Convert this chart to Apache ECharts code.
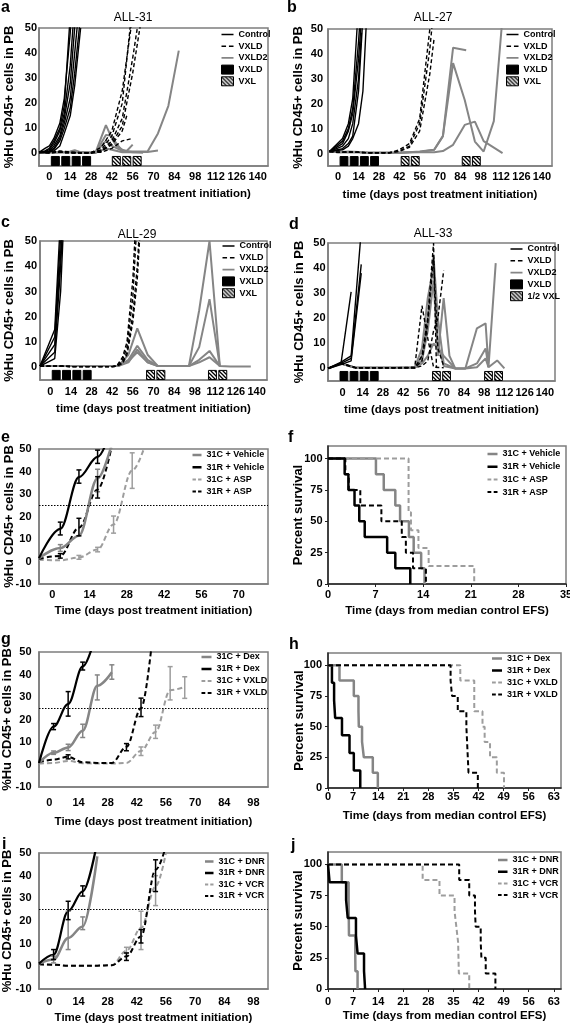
<!DOCTYPE html>
<html><head><meta charset="utf-8">
<script src="https://cdn.jsdelivr.net/npm/echarts@6/dist/echarts.min.js"></script>
<style>html,body{margin:0;padding:0;background:#fff}#c{width:570px;height:1026px}</style>
</head><body><div id="c"></div>
<script>
// ---------------- DATA ----------------
const ticks140 = [0,14,28,42,56,70,84,98,112,126,140];
const ticks70 = [0,14,28,42,56,70];
const ticks98 = [0,14,28,42,56,70,84,98];
const ticks35 = [0,7,14,21,28,35];
const ticks63 = [0,7,14,21,28,35,42,49,56,63];
const pbTicks = [0,10,20,30,40,50];
const pbTicksNeg = [-10,0,10,20,30,40,50];
const survTicks = [0,25,50,75,100];

// Panel a: ALL-31  ([day, %huCD45])
const a_control = [
 [[-7,0.4],[-3,1],[0,2],[3,5],[7,10],[10,19],[14,55]],
 [[-7,0.4],[-3,2],[0,3],[3,6],[7,12],[10,22],[14,48],[17,75]],
 [[-7,0.4],[-3,0.8],[0,1.5],[3,4],[7,9],[10,16],[14,35],[17,60]],
 [[-7,0.4],[-3,0.5],[0,1],[3,3],[7,7],[10,14],[14,28],[17,50],[21,70]],
 [[-7,0.4],[-3,0.5],[0,0.8],[3,2],[7,6],[10,12],[14,22],[17,40],[21,65]],
 [[-7,0.4],[-3,0.4],[0,0.6],[3,1.5],[7,5],[10,10],[14,18],[17,32],[21,55]],
 [[-7,0.4],[-3,0.4],[0,0.5],[3,1],[7,3],[10,8],[14,15],[17,27],[21,50]]
];
const a_vxld = [
 [[-7,0.5],[0,0.5],[7,1],[14,0.5],[21,0.3],[28,0.3],[35,1.5],[42,7],[49,20],[56,60]],
 [[-7,0.5],[0,0.5],[7,0.8],[14,0.5],[21,0.3],[28,0.3],[35,2.5],[42,9],[49,25],[56,55]],
 [[-7,0.5],[0,0.3],[7,0.5],[14,0.3],[21,0.3],[28,0.3],[35,1],[42,5],[49,14],[56,38],[63,65]],
 [[-7,0.5],[0,0.3],[7,0.5],[14,0.3],[21,0.3],[28,0.3],[35,0.8],[42,4],[49,11],[56,32],[63,58]],
 [[-7,0.5],[0,0.3],[7,0.5],[14,0.3],[21,0.3],[28,0.3],[35,1],[42,3.5],[49,9],[52,15]],
 [[-7,0.5],[0,0.3],[7,0.5],[14,0.3],[21,0.3],[28,0.3],[35,0.5],[42,2],[49,5],[56,6]]
];
const a_vxld2 = [
 [[-7,0.5],[0,0.5],[7,0.5],[14,0.8],[17,1.3],[21,0.5],[28,0.3],[31,0.3],[38,11.3],[42,6],[45,3],[49,1.5],[52,1],[56,3.5]],
 [[-7,0.5],[0,0.5],[7,0.5],[14,0.5],[21,0.5],[28,0.3],[31,0.3],[38,7.4],[42,7],[45,4],[49,1],[56,0.8],[63,0.8],[66,0.8],[73,8],[80,19],[87,41]],
 [[-7,0.5],[0,0.5],[7,0.5],[14,0.5],[21,0.5],[28,0.3],[31,0.3],[38,5],[42,3],[49,1],[56,0.5],[63,0.6],[66,0.6],[73,1.2]],
 [[-7,0.5],[0,0.5],[7,0.5],[14,0.5],[21,0.5],[28,0.3],[31,0.3],[38,2],[42,1.5],[49,0.5],[56,0.5],[63,0.3]]
];
const a_tx_vxld = [4, 11, 18, 25];
const a_tx_vxl = [45, 52, 59];

// Panel b: ALL-27
const b_control = [
 [[-6,0.8],[3,6],[7,12],[10,22],[14,60]],
 [[-6,0.8],[3,5],[7,10],[10,18],[14,45],[17,70]],
 [[-6,0.8],[3,4],[7,9],[10,16],[14,38],[17,62]],
 [[-6,0.8],[3,3],[7,6],[10,12],[14,30],[16,48.5]],
 [[-6,0.8],[3,2],[7,4],[10,7],[14,25],[17,55]],
 [[-6,0.8],[3,1.5],[7,3],[10,6],[14,12],[17,25],[20,60]]
];
const b_vxld = [
 [[-6,0.8],[0,0.5],[7,0.8],[14,0.5],[21,0.3],[28,0.3],[35,0.3],[42,1],[49,3],[56,12],[63,42],[66,60]],
 [[-6,0.8],[0,0.5],[7,0.5],[14,0.5],[21,0.3],[28,0.3],[35,0.3],[42,1.5],[49,4],[56,14],[63,50],[66,70]],
 [[-6,0.8],[0,0.5],[7,0.5],[14,0.5],[21,0.3],[28,0.3],[35,0.3],[42,0.8],[49,2.5],[56,9],[63,32],[66,46.5]]
];
const b_vxld2 = [
 [[-6,0.8],[0,0.5],[7,0.8],[14,0.6],[21,0.3],[28,0.3],[35,0.3],[42,0.3],[49,0.5],[56,0.8],[66,1.5],[72,7],[79,42.5],[88,41.5]],
 [[-6,0.8],[0,0.5],[7,0.5],[14,0.5],[21,0.3],[28,0.3],[35,0.3],[42,0.3],[49,0.5],[56,0.6],[66,1.5],[72,7],[79,36.3],[87,21.5],[94,4.8],[100,0.8],[107,13],[113,55]],
 [[-6,0.8],[0,0.5],[7,0.5],[14,0.5],[21,0.3],[28,0.3],[35,0.3],[42,0.3],[49,0.5],[56,0.5],[66,0.5],[72,1],[79,3.5],[87,11.5],[94,12.8],[100,5],[113,0.2]]
];
const b_tx_vxld = [4, 11, 18, 25];
const b_tx_vxl = [46, 53, 88, 95];

// Panel c: ALL-29
const c_control = [
 [[-7,0.5],[3,15],[7,60]],
 [[-7,0.5],[3,12],[7,52]],
 [[-7,0.5],[3,9],[7,45],[10,80]],
 [[-7,0.5],[3,6],[7,40],[10,75]],
 [[-7,0.5],[3,3.5],[7,30],[10,70]]
];
const c_vxld = [
 [[-7,0.5],[0,0.5],[7,0.5],[14,0.3],[21,0.3],[28,0.3],[35,0.3],[42,0.3],[45,0.5],[49,4],[52,10],[56,35],[59,70]],
 [[-7,0.5],[0,0.5],[7,0.5],[14,0.3],[21,0.3],[28,0.3],[35,0.3],[42,0.3],[45,0.5],[49,3],[52,8],[56,28],[59,60]],
 [[-7,0.5],[0,0.5],[7,0.5],[14,0.3],[21,0.3],[28,0.3],[35,0.3],[42,0.3],[45,0.5],[49,2],[52,6],[56,21],[59,40],[63,80]],
 [[-7,0.5],[0,0.5],[7,0.5],[14,0.3],[21,0.3],[28,0.3],[35,0.3],[42,0.3],[45,0.5],[49,1.5],[52,5],[56,18],[59,35],[63,75]]
];
const c_vxld2 = [
 [[-7,0.5],[7,0.5],[21,0.5],[35,0.5],[46,0.5],[53,5],[59,15.4],[66,5],[73,0.5],[87,0.5],[94,0.5],[101,22.6],[108,50],[115,0.5]],
 [[-7,0.5],[7,0.5],[21,0.5],[35,0.5],[46,0.5],[53,3],[59,8.5],[66,3],[73,0.5],[87,0.5],[94,0.5],[101,8],[108,27],[115,0.5]],
 [[-7,0.5],[7,0.5],[21,0.5],[35,0.5],[46,0.5],[53,2],[59,7],[66,2],[73,0.5],[87,0.5],[94,0.5],[101,3],[108,6.5],[115,0.5],[122,0.3],[129,0.3],[136,0.3]],
 [[-7,0.5],[7,0.5],[21,0.5],[35,0.5],[46,0.5],[53,2.5],[59,6],[66,2],[73,0.5],[87,0.5],[94,0.5],[101,2],[108,4],[115,0.5]]
];
const c_tx_vxld = [4, 11, 18, 25];
const c_tx_vxl = [68, 75, 110, 117];

// Panel d: ALL-33
const d_control = [
 [[-10,0],[-1,2],[6,30.5]],
 [[-10,0],[-1,2.5],[6,5],[13,55]],
 [[-10,0],[-1,2],[6,4],[13,41.5]],
 [[-10,0],[-1,1.5],[6,3],[13,38]]
];
const d_vxld = [
 [[-10,0],[-1,2],[9,0.3],[21,0.3],[35,0.3],[50,0.5],[55,25],[59,12],[63,0.5],[70,0.3]],
 [[-10,0],[-1,2],[9,0.3],[21,0.3],[35,0.3],[50,0.3],[55,5],[59,20],[63,50],[65,0.5]],
 [[-10,0],[-1,2],[9,0.3],[21,0.3],[35,0.3],[50,0.3],[55,1],[59,3],[63,15],[66,20],[70,39]],
 [[-10,0],[-1,2],[9,0.3],[21,0.3],[35,0.3],[50,0.3],[55,3],[59,18],[63,44],[66,8],[70,1]]
];
const d_vxld2 = [
 [[-10,0],[-1,2],[9,0.3],[21,0.3],[35,0.3],[50,0.3],[55,5],[59,20],[63,44.6],[66,20],[70,2],[78,0]],
 [[-10,0],[-1,2],[9,0.3],[21,0.3],[35,0.3],[50,0.3],[55,8],[59,28],[63,40.6],[66,10],[70,1],[78,0],[85,0],[93,16],[99,18],[101,0.5],[106,42]],
 [[-10,0],[-1,2],[9,0.3],[21,0.3],[35,0.3],[50,0.3],[55,3],[59,15],[63,35],[66,5],[70,28],[74,5],[78,0],[85,0],[93,2],[99,8],[101,0.5],[107,3.2],[112,0]],
 [[-10,0],[-1,2],[9,0.3],[21,0.3],[35,0.3],[50,0.3],[55,2],[59,5],[63,10],[66,8],[70,5],[78,0],[85,0],[93,0.5],[99,4],[101,0.5]]
];
const d_tx_vxld = [1, 8, 15, 22];
const d_tx_vxl = [65, 72, 101, 108];

// Panel e (mean %) and error bars [day, low, high]
const e_days = [-5, 3, 10, 17, 23, 30, 37];
const e_c_veh = [1.5, 6, 11.5, 37, 55];
const e_r_veh = [1.5, 14.5, 37.5, 46.5, 62];
const e_c_asp = [0.8, 0.5, 1.8, 5.3, 16.5, 40.5, 60];
const e_r_asp = [1.2, 2.5, 15, 32, 55];
const e_c_veh_err = [[3,4.5,7.5],[17,31,41]];
const e_r_veh_err = [[3,11.8,17.5],[10,34.8,40.7],[17,43.6,49.5]];
const e_c_asp_err = [[10,1,2.7],[17,4.3,6.3],[23,12.6,20.2],[30,32.5,48.3]];
const e_r_asp_err = [[3,1.5,3.5],[10,11.4,19.2],[17,28.2,37.7]];

// Panel f survival [day, %]
const f_c_veh = [[0,100],[7.05,87.5],[8.2,75],[9.9,62.5],[10.6,50],[11.9,37.5],[12.6,25],[13.7,12.5],[14.2,0]];
const f_r_veh = [[0,100],[2.45,87.5],[3.0,75],[3.9,62.5],[4.6,50],[5.4,37.5],[8.7,25],[9.9,12.5],[12.1,0]];
const f_c_asp = [[0,100],[11.85,57.1],[12.2,42.9],[13.3,28.6],[14.8,14.3],[21.5,0]];
const f_r_asp = [[0,100],[2.55,87.5],[3.05,75],[4.75,62.5],[7.85,50],[10.85,37.5],[11.45,25],[12.5,12.5],[14.4,0]];

// Panel g
const g_days = [-5, 2, 9, 16, 23, 30, 37, 44, 51, 58, 65];
const g_c_dex = [0.7, 5.2, 7.6, 15, 35, 41];
const g_r_dex = [0.7, 16.8, 26.9, 43.6, 60];
const g_c_vxld = [0.4, 0.7, 1.6, 0.6, 0.4, 0.4, 0.7, 6, 14.5, 33, 34.5];
const g_r_vxld = [1, 2.2, 3.4, 1, 0.7, 0.7, 7.8, 25, 70];
const g_c_dex_err = [[2,4.5,6],[9,6.2,9],[16,12,17.9],[23,28.7,39.8],[30,37.9,44.3]];
const g_r_dex_err = [[2,15.5,18.2],[9,21.5,32.4],[16,42,45.5]];
const g_c_vxld_err = [[44,4,7.8],[51,11.6,17.5],[58,28.7,43.5],[65,29.4,39]];
const g_r_vxld_err = [[9,2.5,4.3],[37,6.1,9.3],[44,21.3,29.5]];

// Panel h survival
const h_c_dex = [[0,100],[3.2,87.5],[7.2,75],[8.5,62.5],[8.6,50],[9.5,37.5],[10.0,25],[12.5,12.5],[13.9,0]];
const h_r_dex = [[0,100],[1.1,85.7],[1.7,71.4],[2.0,57.1],[3.9,42.9],[6.0,28.6],[7.2,14.3],[9.0,0]];
const h_c_vxld = [[0,100],[36.9,87.5],[40.8,62.5],[43.1,50],[43.7,37.5],[45.2,25],[47.1,12.5],[49.1,0]];
const h_r_vxld = [[0,100],[34.2,87.5],[34.6,75],[36.2,62.5],[38.6,50],[38.8,37.5],[39.0,25],[39.2,12.5],[41.8,0]];

// Panel i
const i_days = [-5, 2, 9, 16, 23, 30, 37, 44, 51, 58];
const i_c_dnr = [1.2, 3, 12.5, 17.6, 48.5];
const i_r_dnr = [1.2, 5.1, 24.3, 33.1, 55];
const i_c_vcr = [0.7, 0.7, 0.3, 0.3, 0.3, 0.5, 6.9, 16.9, 35.3, 60];
const i_r_vcr = [1, 0.7, 0.3, 0.3, 0.3, 0.5, 4.4, 13.2, 42.6, 60];
const i_c_dnr_err = [[2,1.5,4.5],[9,7.4,24.3],[16,16.2,21.8]];
const i_r_dnr_err = [[2,3,7.4],[9,20.6,28.7],[16,31,35.5]];
const i_c_vcr_err = [[37,5.9,8.4],[44,7.4,24.3],[51,26.8,40]];
const i_r_vcr_err = [[37,2.6,5.9],[44,10.3,16.2],[51,33,47]];

// Panel j survival
const j_c_dnr = [[0,100],[3.85,85.7],[5.75,71.4],[5.8,57.1],[5.85,42.9],[7.6,28.6],[7.65,14.3],[8.25,0]];
const j_r_dnr = [[0,100],[0.45,85.7],[5.05,71.4],[5.5,57.1],[7.8,42.9],[8.25,28.6],[10.05,14.3],[10.35,0]];
const j_c_vcr = [[0,100],[26.4,87.5],[31.1,75],[35.3,62.5],[35.8,50],[36.3,37.5],[36.4,25],[36.5,12.5],[39.4,0]];
const j_r_vcr = [[0,100],[36.6,87.5],[39.4,75],[41.0,62.5],[41.2,50],[42.6,37.5],[42.8,25],[44.0,12.5],[46.7,0]];

const reference = 25;

// ---------------- STYLE / LAYOUT ----------------
const FONT = '"Liberation Sans", Arial, Helvetica, sans-serif';
const GRAY = '#858585', LGRAY = '#9d9d9d', AX = '#7d7d7d';
const YPB = '%Hu CD45+ cells in PB', YSV = 'Percent survival';
const XA = 'time (days post treatment initiation)';
const XE = 'Time (days post treatment initiation)';
const XS = 'Time (days from median control EFS)';

const P = [
 {g:{left:39, top:28, width:229, height:138}, x:[-7,147], xt:ticks140, y:[-5,50], yt:pbTicks, xn:XA, yn:YPB, xg:21.5, yg:23, xm:5.5, ym:2},
 {g:{left:328, top:29, width:224, height:137}, x:[-7,147], xt:ticks140, y:[-5,50], yt:pbTicks, xn:XA, yn:YPB, xg:22.5, yg:23, xm:5.8, ym:5},
 {g:{left:40, top:241, width:227, height:139}, x:[-7,147], xt:ticks140, y:[-5,50], yt:pbTicks, xn:XA, yn:YPB, xg:22.8, yg:24, xm:6, ym:3},
 {g:{left:328, top:243, width:227, height:138}, x:[-10,147], xt:ticks140, y:[-5,50], yt:pbTicks, xn:XA, yn:YPB, xg:22.8, yg:22, xm:6, ym:2.5},
 {g:{left:39, top:449, width:229, height:135}, x:[-5,81], xt:ticks70, y:[-10,50], yt:pbTicksNeg, xn:XE, yn:YPB, xg:21, yg:23, xm:5, ym:7.5},
 {g:{left:328, top:446, width:238, height:138}, x:[0,35], xt:ticks35, y:[0,110], yt:survTicks, xn:XS, yn:YSV, xg:21, yg:22.7, xm:5, ym:5.5, surv:true},
 {g:{left:39, top:652, width:229, height:135}, x:[-5,105], xt:ticks98, y:[-10,50], yt:pbTicksNeg, xn:XE, yn:YPB, xg:28.5, yg:24.8, xm:10, ym:7.5},
 {g:{left:328, top:653, width:233, height:135}, x:[0,65], xt:ticks63, y:[0,110], yt:survTicks, xn:XS, yn:YSV, xg:22, yg:22.3, xm:3.5, ym:6, surv:true},
 {g:{left:39, top:853, width:229, height:136}, x:[-5,105], xt:ticks98, y:[-10,50], yt:pbTicksNeg, xn:XE, yn:YPB, xg:22.5, yg:24.8, xm:7.5, ym:7.5},
 {g:{left:328, top:852, width:233, height:137}, x:[0,65], xt:ticks63, y:[0,110], yt:survTicks, xn:XS, yn:YSV, xg:21, yg:23.3, xm:7.5, ym:6, surv:true}
];

function makeHatch() {
  const c = document.createElement('canvas');
  c.width = 4; c.height = 4;
  const g = c.getContext('2d');
  g.fillStyle = '#fff'; g.fillRect(0,0,4,4);
  g.strokeStyle = '#000'; g.lineWidth = 1.3;
  g.beginPath();
  g.moveTo(-1,-1); g.lineTo(5,5);
  g.moveTo(-1,3); g.lineTo(1,5);
  g.moveTo(3,-1); g.lineTo(5,1);
  g.stroke();
  return c;
}
const HATCH = {image: makeHatch(), repeat: 'repeat'};

const grids = P.map(p => Object.assign({show:true, borderColor:AX, borderWidth:1.5, backgroundColor:'transparent', containLabel:false, outerBoundsMode:'none'}, p.g));

const xAxes = P.map((p,i) => ({
  type:'value', gridIndex:i, min:p.x[0], max:p.x[1],
  name:p.xn, nameLocation:'middle', nameGap:p.xg, nameMoveOverlap:false,
  nameTextStyle:{fontFamily:FONT, fontSize:11.5, fontWeight:'bold', color:'#000'},
  axisLine:{show:true, onZero:false, lineStyle:{color:p.surv ? '#222' : AX, width:1.5}},
  axisTick:{show:!!p.surv, length:3, customValues:p.xt, lineStyle:{color:'#222', width:1}},
  axisLabel:{customValues:p.xt, margin:p.xm, fontFamily:FONT, fontSize:11, fontWeight:'bold', color:'#000', hideOverlap:false, showMinLabel:true, showMaxLabel:true},
  splitLine:{show:false}
}));
const yAxes = P.map((p,i) => ({
  type:'value', gridIndex:i, min:p.y[0], max:p.y[1],
  name:p.yn, nameLocation:'middle', nameGap:p.yg, nameMoveOverlap:false,
  nameTextStyle:{fontFamily:FONT, fontSize:13, fontWeight:'bold', color:'#000'},
  axisLine:{show:true, onZero:false, lineStyle:{color:p.surv ? '#222' : AX, width:1.5}},
  axisTick:{show:!!p.surv, length:3, customValues:p.yt, lineStyle:{color:'#222', width:1}},
  axisLabel:{customValues:p.yt, margin:p.ym, fontFamily:FONT, fontSize:11, fontWeight:'bold', color:'#000', showMinLabel:true, showMaxLabel:true},
  splitLine:{show:false}
}));

const series = [];
function line(gi, name, data, color, width, dash, extra) {
  series.push(Object.assign({
    type:'line', name, xAxisIndex:gi, yAxisIndex:gi, data,
    symbol:'none', showSymbol:false, clip:true, animation:false, silent:true,
    lineStyle:{color, width, type: dash || 'solid'}, itemStyle:{color},
    emphasis:{disabled:true}
  }, extra || {}));
}
function zip(xs, ys) { return ys.map((y,k) => [xs[k], y]); }

const TXW = 5.4, TXTOP = -1.2, TXBOT = -4.8;
function tx(gi, name, days, fill) {
  series.push({
    type:'custom', name, xAxisIndex:gi, yAxisIndex:gi, silent:true, animation:false,
    data: days.map(d => [d]), dimensions:['day'], encode:{x:0},
    itemStyle:{color: fill === 'hatch' ? HATCH : '#000'},
    renderItem(params, api) {
      const d = api.value(0);
      const p0 = api.coord([d - TXW/2, TXTOP]);
      const p1 = api.coord([d + TXW/2, TXBOT]);
      return {type:'rect', shape:{x:p0[0], y:p0[1], width:p1[0]-p0[0], height:p1[1]-p0[1]},
        style:{fill: fill === 'hatch' ? HATCH : '#000', stroke:'#000', lineWidth:1}};
    }
  });
}
function err(gi, name, rows, color) {
  series.push({
    type:'custom', name, xAxisIndex:gi, yAxisIndex:gi, silent:true, animation:false, z:4,
    data: rows, dimensions:['day','lo','hi'], encode:{x:0, y:[1,2]},
    renderItem(params, api) {
      const x = api.value(0), lo = api.value(1), hi = api.value(2);
      const a = api.coord([x, hi]), b = api.coord([x, lo]);
      const w = 2.5, st = {stroke:color, lineWidth:1.5};
      return {type:'group', children:[
        {type:'line', shape:{x1:a[0], y1:a[1], x2:b[0], y2:b[1]}, style:st},
        {type:'line', shape:{x1:a[0]-w, y1:a[1], x2:a[0]+w, y2:a[1]}, style:st},
        {type:'line', shape:{x1:b[0]-w, y1:b[1], x2:b[0]+w, y2:b[1]}, style:st}
      ]};
    }
  });
}

const DASH = [4, 2.5];
const DASH2 = [5, 3];

// panels a-d
const PAN = [
  [a_control, a_vxld, a_vxld2, a_tx_vxld, a_tx_vxl, 'VXL bar'],
  [b_control, b_vxld, b_vxld2, b_tx_vxld, b_tx_vxl, 'VXL bar'],
  [c_control, c_vxld, c_vxld2, c_tx_vxld, c_tx_vxl, 'VXL bar'],
  [d_control, d_vxld, d_vxld2, d_tx_vxld, d_tx_vxl, '1/2 VXL bar']
];
PAN.forEach((pp, gi) => {
  pp[2].forEach(l => line(gi, 'VXLD2', l, GRAY, 2));
  pp[1].forEach(l => line(gi, 'VXLD', l, '#000', 1.4, DASH));
  pp[0].forEach(l => line(gi, 'Control', l, '#000', 1.4));
  tx(gi, 'VXLD bar', pp[3], 'solid');
  tx(gi, pp[5], pp[4], 'hatch');
});

const mark = {silent:true, symbol:['none','none'], label:{show:false}, animation:false,
  lineStyle:{type:[1.5,1.5], color:'#000', width:1}, data:[{yAxis: reference}]};
const SM = {smooth:0.35, smoothMonotone:'x'};

// e
line(4, '31C + ASP', zip(e_days, e_c_asp), LGRAY, 2, DASH2, SM);
line(4, '31R + ASP', zip(e_days, e_r_asp), '#000', 2, DASH2, SM);
line(4, '31C + Vehicle', zip(e_days, e_c_veh), GRAY, 2.5, null, Object.assign({markLine:mark}, SM));
line(4, '31R + Vehicle', zip(e_days, e_r_veh), '#000', 2.2, null, SM);
err(4, 'e1', e_c_veh_err, GRAY); err(4, 'e2', e_r_veh_err, '#000');
err(4, 'e3', e_c_asp_err, LGRAY); err(4, 'e4', e_r_asp_err, '#000');
// f
const ST = {step:'end'};
line(5, '31C + Vehicle', f_c_veh, GRAY, 2.5, null, ST);
line(5, '31C + ASP', f_c_asp, LGRAY, 2, DASH2, ST);
line(5, '31R + ASP', f_r_asp, '#000', 2, DASH2, ST);
line(5, '31R + Vehicle', f_r_veh, '#000', 2.5, null, ST);
// g
line(6, '31C + VXLD', zip(g_days, g_c_vxld), LGRAY, 2, DASH2, SM);
line(6, '31R + VXLD', zip(g_days, g_r_vxld), '#000', 2, DASH2, SM);
line(6, '31C + Dex', zip(g_days, g_c_dex), GRAY, 2.5, null, Object.assign({markLine:mark}, SM));
line(6, '31R + Dex', zip(g_days, g_r_dex), '#000', 2.2, null, SM);
err(6, 'g1', g_c_dex_err, GRAY); err(6, 'g2', g_r_dex_err, '#000');
err(6, 'g3', g_c_vxld_err, LGRAY); err(6, 'g4', g_r_vxld_err, '#000');
// h
line(7, '31C + Dex', h_c_dex, GRAY, 2.5, null, ST);
line(7, '31R + Dex', h_r_dex, '#000', 2.5, null, ST);
line(7, '31C + VXLD', h_c_vxld, LGRAY, 2, DASH2, ST);
line(7, '31R + VXLD', h_r_vxld, '#000', 2, DASH2, ST);
// i
line(8, '31C + VCR', zip(i_days, i_c_vcr), LGRAY, 2, DASH2, SM);
line(8, '31R + VCR', zip(i_days, i_r_vcr), '#000', 2, DASH2, SM);
line(8, '31C + DNR', zip(i_days, i_c_dnr), GRAY, 2.5, null, Object.assign({markLine:mark}, SM));
line(8, '31R + DNR', zip(i_days, i_r_dnr), '#000', 2.2, null, SM);
err(8, 'i1', i_c_dnr_err, GRAY); err(8, 'i2', i_r_dnr_err, '#000');
err(8, 'i3', i_c_vcr_err, LGRAY); err(8, 'i4', i_r_vcr_err, '#000');
// j
line(9, '31C + DNR', j_c_dnr, GRAY, 2.5, null, ST);
line(9, '31C + VCR', j_c_vcr, LGRAY, 2, DASH2, ST);
line(9, '31R + VCR', j_r_vcr, '#000', 2, DASH2, ST);
line(9, '31R + DNR', j_r_dnr, '#000', 2.5, null, ST);

// legends: line icons built as filled paths (solid bar or two dashes), padded to 9px height
const IH = 9;
function iconPath(w, h, dashed) {
  const y0 = (IH - h) / 2;
  let p = 'path://M0,0L0.01,0M0,' + IH + 'L0.01,' + IH;
  if (dashed) {
    const d = w * 0.38;
    p += 'M0,' + y0 + 'H' + d + 'V' + (y0 + h) + 'H0Z';
    p += 'M' + (w - d) + ',' + y0 + 'H' + w + 'V' + (y0 + h) + 'H' + (w - d) + 'Z';
  } else {
    p += 'M0,' + y0 + 'H' + w + 'V' + (y0 + h) + 'H0Z';
  }
  return p;
}
function li(name, color, w, h, dashed) {
  return {name, icon: iconPath(w, h, dashed), itemStyle:{color, borderWidth:0, borderColor:'transparent'}};
}
const LT = {fontFamily:FONT, fontSize:9, fontWeight:'bold', color:'#000', lineHeight:10};
function legend(left, top, data, gap, iw) {
  return {left, top, orient:'vertical', padding:0, itemGap:gap, itemWidth:iw, itemHeight:IH,
    selectedMode:false, textStyle:LT, data, symbolKeepAspect:false,
    formatter: n => n.replace(' bar','')};
}
function abcd(lastName) {
  return [li('Control', '#000', 12, 1.6), li('VXLD', '#000', 12, 1.6, true), li('VXLD2', GRAY, 12, 1.8),
    {name:'VXLD bar', icon:'rect', itemStyle:{color:'#000', borderColor:'#000', borderWidth:1}},
    {name:lastName, icon:'rect', itemStyle:{color:HATCH, borderColor:'#000', borderWidth:1}}];
}
function four(n1, n2, n3, n4, w) {
  return [li(n1, GRAY, w, 2.5), li(n2, '#000', w, 2.5), li(n3, LGRAY, w, 2, true), li(n4, '#000', w, 2, true)];
}
const legends = [
  legend(221, 29.5, abcd('VXL bar'), 1.7, 12),
  legend(506, 29.5, abcd('VXL bar'), 1.7, 12),
  legend(222, 241, abcd('VXL bar'), 1.8, 12),
  legend(510, 244, abcd('1/2 VXL bar'), 1.8, 12),
  legend(192.5, 450, four('31C + Vehicle','31R + Vehicle','31C + ASP','31R + ASP', 9), 2.2, 9),
  legend(487.5, 449, four('31C + Vehicle','31R + Vehicle','31C + ASP','31R + ASP', 10), 2.7, 10),
  legend(201.5, 652, four('31C + Dex','31R + Dex','31C + VXLD','31R + VXLD', 10), 2, 10),
  legend(492, 653.5, four('31C + Dex','31R + Dex','31C + VXLD','31R + VXLD', 10), 2, 10),
  legend(205, 856.5, four('31C + DNR','31R + DNR','31C + VCR','31R + VCR', 8.5), 1.5, 8.5),
  legend(498, 855, four('31C + DNR','31R + DNR','31C + VCR','31R + VCR', 9.5), 1.7, 9.5)
];

// panel letters & titles
function txt(text, x, y, size, weight, align) {
  return {type:'text', x, y, silent:true, style:{text, fontFamily:FONT, fontSize:size, fontWeight:weight, fill:'#000',
    align:align, textAlign:align, verticalAlign:'middle', textVerticalAlign:'middle'}};
}
const graphics = [
  txt('a', 1, 7.5, 16, 'bold', 'left'), txt('b', 287, 7.8, 16, 'bold', 'left'),
  txt('c', 1, 222.5, 16, 'bold', 'left'), txt('d', 289, 224.5, 16, 'bold', 'left'),
  txt('e', 1, 437.5, 16, 'bold', 'left'), txt('f', 288, 437.5, 16, 'bold', 'left'),
  txt('g', 1, 639.5, 16, 'bold', 'left'), txt('h', 289, 644.5, 16, 'bold', 'left'),
  txt('i', 2, 844.5, 16, 'bold', 'left'), txt('j', 291, 845.5, 16, 'bold', 'left'),
  txt('ALL-31', 133, 18, 12, 'normal', 'center'), txt('ALL-27', 433, 18, 12, 'normal', 'center'),
  txt('ALL-29', 137, 235, 12, 'normal', 'center'), txt('ALL-33', 433, 234, 12, 'normal', 'center')
];

const chart = echarts.init(document.getElementById('c'), null, {renderer:'canvas', width:570, height:1026});
chart.setOption({
  animation:false, backgroundColor:'#fff',
  textStyle:{fontFamily:FONT},
  grid:grids, xAxis:xAxes, yAxis:yAxes, legend:legends, series, graphic:{elements:graphics}
});
</script></body></html>
